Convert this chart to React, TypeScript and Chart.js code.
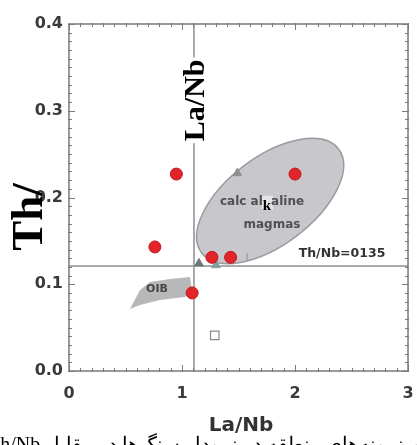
import React, { useEffect, useRef } from "react";
import { Chart, registerables } from "chart.js";

Chart.register(...registerables);

// ---- data ----
const X_RANGE = [0, 3];
const Y_RANGE = [0, 0.4];
const X_STEP = 1;
const Y_STEP = 0.1;

const redSamples = [
  { x: 0.95, y: 0.227 },
  { x: 2.0, y: 0.227 },
  { x: 0.76, y: 0.143 },
  { x: 1.09, y: 0.09 },
  { x: 1.265, y: 0.131 },
  { x: 1.43, y: 0.131 },
];
const triangleSamples = [
  { x: 1.15, y: 0.124 },
  { x: 1.3, y: 0.122 },
  { x: 1.49, y: 0.228 },
];
const triangleColors = ["#6b787b", "#7d9fa0", "#8d8f92"];
const squareSamples = [{ x: 1.29, y: 0.041 }];
const barSamples = [{ x: 1.575, y: 0.131 }];

const thNbRatio = 0.121;
const laNbRatio = 1.106;

const ellipseCenter = [1.78, 0.196];
const ellipseMajorEnd = [2.387, 0.2557];
const ellipseMinorEnd = [2.013, 0.1555];

const oibOutline = [
  [0.54, 0.0715],
  [0.628, 0.0934],
  [0.717, 0.1026],
  [0.894, 0.106],
  [1.071, 0.1084],
  [1.088, 0.0934],
  [1.027, 0.0853],
  [0.805, 0.0818],
  [0.628, 0.0761],
];

const SANS = '"DejaVu Sans", sans-serif';
const SERIF = '"Liberation Serif", "Times New Roman", serif';

const decor = {
  id: "decor",
  beforeDatasetsDraw(chart: any) {
    const { ctx, scales } = chart;
    const xs = scales.x;
    const ys = scales.y;
    const px = (p: number[]) => [xs.getPixelForValue(p[0]), ys.getPixelForValue(p[1])];

    ctx.save();
    // calc-alkaline field
    const c = px(ellipseCenter);
    const a = px(ellipseMajorEnd);
    const b = px(ellipseMinorEnd);
    ctx.beginPath();
    ctx.save();
    ctx.translate(c[0], c[1]);
    ctx.transform(a[0] - c[0], a[1] - c[1], b[0] - c[0], b[1] - c[1], 0, 0);
    ctx.arc(0, 0, 1, 0, Math.PI * 2);
    ctx.restore();
    ctx.fillStyle = "#c8c8cc";
    ctx.fill();
    ctx.strokeStyle = "#9b9b9f";
    ctx.lineWidth = 1.5;
    ctx.stroke();

    // OIB field
    ctx.beginPath();
    oibOutline.forEach((p, i) => {
      const q = px(p);
      if (i === 0) ctx.moveTo(q[0], q[1]);
      else ctx.lineTo(q[0], q[1]);
    });
    ctx.closePath();
    ctx.fillStyle = "#b8b8ba";
    ctx.fill();

    // texts inside plot
    ctx.textBaseline = "middle";
    const t = px([1.708, 0.195]);
    ctx.font = `bold 12px ${SANS}`;
    const w1 = ctx.measureText("calc al").width;
    const w2 = ctx.measureText("aline").width;
    ctx.font = `bold 15px ${SERIF}`;
    const wk = ctx.measureText("k").width;
    const start = t[0] - (w1 + wk + w2) / 2;
    ctx.fillStyle = "#e4e4e6";
    ctx.fillRect(start + w1 - 1, t[1] - 6, wk + 3, 14);
    ctx.font = `bold 12px ${SANS}`;
    ctx.fillStyle = "#505050";
    ctx.textAlign = "left";
    ctx.fillText("calc al", start, t[1]);
    ctx.fillText("aline", start + w1 + wk, t[1]);
    ctx.font = `bold 15px ${SERIF}`;
    ctx.fillStyle = "#000";
    ctx.fillText("k", start + w1, t[1] + 4);

    ctx.font = `bold 12px ${SANS}`;
    ctx.fillStyle = "#505050";
    ctx.textAlign = "center";
    const m = px([1.796, 0.168]);
    ctx.fillText("magmas", m[0], m[1]);

    const o = px([0.779, 0.0945]);
    ctx.font = `bold 11px ${SANS}`;
    ctx.fillStyle = "#444";
    ctx.fillText("OIB", o[0], o[1]);

    const r = px([2.416, 0.135]);
    ctx.font = `bold 12.5px ${SANS}`;
    ctx.fillStyle = "#333";
    ctx.fillText("Th/Nb=0135", r[0], r[1]);
    ctx.restore();
  },
  afterDraw(chart: any) {
    const { ctx, scales, chartArea: ca } = chart;
    const xs = scales.x;
    const ys = scales.y;
    ctx.save();
    // frame
    ctx.strokeStyle = "#7a7a7a";
    ctx.lineWidth = 1.5;
    ctx.strokeRect(ca.left, ca.top, ca.right - ca.left, ca.bottom - ca.top);
    ctx.lineWidth = 1;
    ctx.beginPath();
    for (let i = 0; i <= 30; i++) {
      const v = X_RANGE[0] + i * 0.1;
      const p = Math.round(xs.getPixelForValue(v)) + 0.5;
      const len = i % 10 === 0 ? 6 : 3;
      ctx.moveTo(p, ca.bottom + 1);
      ctx.lineTo(p, ca.bottom - len);
      ctx.moveTo(p, ca.top - 1);
      ctx.lineTo(p, ca.top + len);
    }
    for (let i = 0; i <= 40; i++) {
      const v = Y_RANGE[0] + i * 0.01;
      const p = Math.round(ys.getPixelForValue(v)) + 0.5;
      const len = i % 10 === 0 ? 6 : 3;
      ctx.moveTo(ca.left - 1, p);
      ctx.lineTo(ca.left + len, p);
      ctx.moveTo(ca.right + 1, p);
      ctx.lineTo(ca.right - len, p);
    }
    ctx.stroke();

    // rotated La/Nb inside plot
    const lp = [xs.getPixelForValue(1.115), ys.getPixelForValue(0.312)];
    ctx.save();
    ctx.translate(lp[0], lp[1]);
    ctx.rotate(-Math.PI / 2);
    ctx.font = `bold 30px ${SERIF}`;
    const lw = ctx.measureText("La/Nb").width;
    ctx.fillStyle = "#fff";
    ctx.fillRect(-lw / 2 - 2, -11, lw + 4, 22);
    ctx.fillStyle = "#000";
    ctx.textAlign = "center";
    ctx.textBaseline = "middle";
    ctx.fillText("La/Nb", 0, 1);
    ctx.restore();

    // big rotated y title "Th/"
    ctx.save();
    ctx.translate(28, 217);
    ctx.rotate(-Math.PI / 2);
    ctx.font = `bold 45px ${SERIF}`;
    ctx.fillStyle = "#000";
    ctx.textAlign = "center";
    ctx.textBaseline = "middle";
    ctx.fillText("Th/", 0, 2);
    ctx.restore();

    // persian caption, cut by the bottom edge
    ctx.save();
    ctx.font = `20px ${SERIF}`;
    ctx.direction = "rtl";
    ctx.textAlign = "left";
    ctx.textBaseline = "alphabetic";
    ctx.fillStyle = "#000";
    ctx.fillText("نتایج حاصل از ترسیم نمونه‌های منطقه در نمودار سنگ‌ها در مقابل Th/Nb", -12, 451);
    ctx.restore();

    // x title
    ctx.font = `bold 20px ${SANS}`;
    ctx.fillStyle = "#333";
    ctx.textAlign = "center";
    ctx.textBaseline = "middle";
    ctx.fillText("La/Nb", 241, 426);
    ctx.restore();
  },
};

export default function App() {
  const ref = useRef<HTMLCanvasElement | null>(null);
  useEffect(() => {
    if (!ref.current) return;
    const chart = new Chart(ref.current, {
      type: "scatter",
      data: {
        datasets: [
          {
            data: [
              { x: X_RANGE[0], y: thNbRatio },
              { x: X_RANGE[1], y: thNbRatio },
            ],
            showLine: true,
            borderColor: "#8e8e8e",
            borderWidth: 1.5,
            pointRadius: 0,
            order: 10,
          },
          {
            data: [
              { x: laNbRatio, y: Y_RANGE[0] },
              { x: laNbRatio, y: Y_RANGE[1] },
            ],
            showLine: true,
            borderColor: "#8e8e8e",
            borderWidth: 1.5,
            pointRadius: 0,
            order: 10,
          },
          {
            data: squareSamples,
            pointStyle: "rect",
            pointRadius: 6,
            backgroundColor: "rgba(0,0,0,0)",
            borderColor: "#8a8a8a",
            borderWidth: 1.2,
            order: 5,
          },
          {
            data: barSamples,
            pointStyle: "line",
            rotation: 90,
            pointRadius: 4,
            borderColor: "#a0a0a0",
            borderWidth: 1.5,
            order: 5,
          },
          {
            data: triangleSamples,
            pointStyle: "triangle",
            pointRadius: 5,
            backgroundColor: triangleColors,
            borderColor: triangleColors,
            borderWidth: 1,
            order: 3,
          },
          {
            data: redSamples,
            pointStyle: "circle",
            pointRadius: 6,
            backgroundColor: "#e2252b",
            borderColor: "#c0161c",
            borderWidth: 1,
            order: 1,
          },
        ],
      },
      options: {
        responsive: false,
        animation: false,
        events: [],
        layout: { padding: { left: 0, top: 24, right: 9, bottom: 0 } },
        plugins: { legend: { display: false }, tooltip: { enabled: false } },
        scales: {
          x: {
            type: "linear",
            min: X_RANGE[0],
            max: X_RANGE[1],
            grid: { display: false, drawTicks: false },
            border: { display: false },
            ticks: {
              stepSize: X_STEP,
              padding: 13,
              color: "#3a3a3a",
              font: { family: SANS, weight: "bold", size: 16 },
              callback: (v: any) => String(Math.round(Number(v))),
            },
            afterFit: (s: any) => {
              s.height = 74;
              s.paddingLeft = 0;
              s.paddingRight = 0;
            },
          },
          y: {
            type: "linear",
            min: Y_RANGE[0],
            max: Y_RANGE[1],
            grid: { display: false, drawTicks: false },
            border: { display: false },
            ticks: {
              stepSize: Y_STEP,
              padding: 6,
              color: "#3a3a3a",
              font: { family: SANS, weight: "bold", size: 16 },
              callback: (v: any) => Number(v).toFixed(1),
            },
            afterFit: (s: any) => {
              s.width = 69;
              s.paddingTop = 0;
              s.paddingBottom = 0;
            },
          },
        },
      },
      plugins: [decor],
    });
    return () => chart.destroy();
  }, []);
  return (
    <div style={{ position: "fixed", left: 0, top: 0, width: 417, height: 445, background: "#fff" }}>
      <canvas ref={ref} width={417} height={445} style={{ display: "block" }} />
    </div>
  );
}
